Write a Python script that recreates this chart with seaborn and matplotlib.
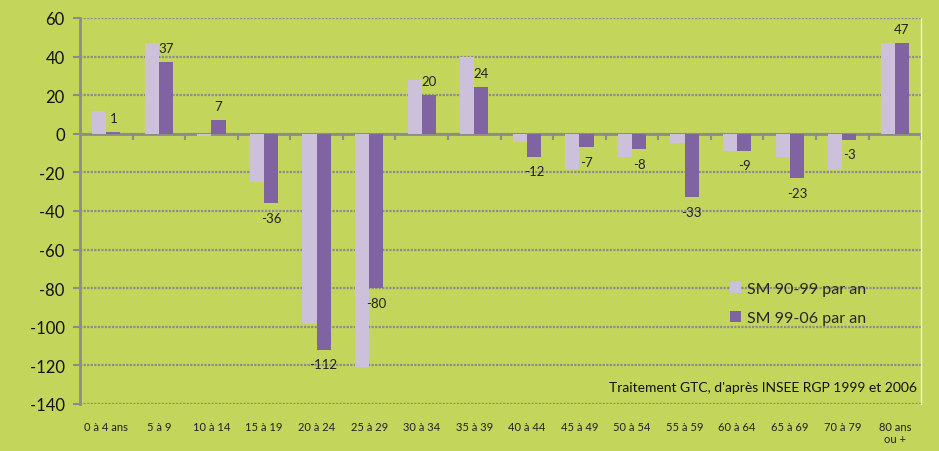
import numpy as np
import pandas as pd
import matplotlib
matplotlib.use("Agg")
import matplotlib.pyplot as plt
import seaborn as sns
from matplotlib.patches import Patch

# Tranches d'age et soldes migratoires annuels
ages = ["0 à 4 ans", "5 à 9", "10 à 14", "15 à 19", "20 à 24", "25 à 29", "30 à 34", "35 à 39",
        "40 à 44", "45 à 49", "50 à 54", "55 à 59", "60 à 64", "65 à 69", "70 à 79", "80 ans\nou +"]
sm_90_99 = [12, 47, -1, -25, -98, -121, 28, 40, -4, -18, -12, -5, -9, -12, -19, 47]
sm_99_06 = [1, 37, 7, -36, -112, -80, 20, 24, -12, -7, -8, -33, -9, -23, -3, 47]
series = ["SM 90-99 par an", "SM 99-06 par an"]

bg = "#c4d55b"
c_light = "#ccc0da"
c_dark = "#8064a2"
grid_c = "#8c8c8c"

df = pd.DataFrame({
    "age": ages * 2,
    "valeur": sm_90_99 + sm_99_06,
    "serie": [series[0]] * len(ages) + [series[1]] * len(ages),
})

sns.set_style("white")
plt.rcParams["font.family"] = ["Lato", "DejaVu Sans"]
plt.rcParams["axes.unicode_minus"] = False

fig = plt.figure(figsize=(9.39, 4.52), dpi=100, facecolor=bg)
ax = fig.add_axes([0.0852, 0.104, 0.8958, 0.854])
ax.set_facecolor(bg)

sns.barplot(data=df, x="age", y="valeur", hue="serie", palette=[c_light, c_dark],
            width=0.54, gap=0, saturation=1, ax=ax, legend=False, zorder=3,
            linewidth=0, edgecolor="none")

# etiquettes sur la 2e serie
ax.bar_label(ax.containers[1], labels=[str(v) for v in sm_99_06], padding=6,
             fontsize=9.5, color="#222222", zorder=4)

ax.set_ylim(-140, 60)
ax.set_xlim(-0.5, len(ages) - 0.5)
ax.set_yticks(np.arange(-140, 61, 20))
ax.yaxis.grid(True, linestyle=(0, (1, 0.6)), color=grid_c, linewidth=1.6, zorder=0)
ax.set_axisbelow(True)
ax.set_xlabel("")
ax.set_ylabel("")

ax.tick_params(axis="y", labelsize=12, length=5, width=1.5, color=grid_c, pad=6, labelcolor="#111111")
ax.tick_params(axis="x", labelsize=8, length=0, pad=12, labelcolor="#222222")
ax.yaxis.set_tick_params(left=True)

for s in ["top", "bottom"]:
    ax.spines[s].set_visible(False)
ax.spines["left"].set_color(grid_c)
ax.spines["left"].set_linewidth(2)
ax.spines["right"].set_color("#f0f0e0")
ax.spines["right"].set_linewidth(1)

# ligne du zero et petites graduations entre categories
ax.axhline(0, color=grid_c, linewidth=2, zorder=2)
ax.vlines(np.arange(0.5, len(ages)), -3, 0, color=grid_c, linewidth=1.5, zorder=2)

handles = [Patch(facecolor=c_light, edgecolor="none", label=series[0]),
           Patch(facecolor=c_dark, edgecolor="none", label=series[1])]
fig.legend(handles=handles, loc="upper left", bbox_to_anchor=(0.762, 0.405), frameon=False,
           fontsize=11.5, handlelength=0.7, handleheight=0.7, labelspacing=0.9, handletextpad=0.4)

ax.text(0.995, 0.045, "Traitement GTC, d'après INSEE RGP 1999 et 2006", transform=ax.transAxes,
        ha="right", va="center", fontsize=10, color="#111111")

fig.savefig("out.png", dpi=100, facecolor=bg)
